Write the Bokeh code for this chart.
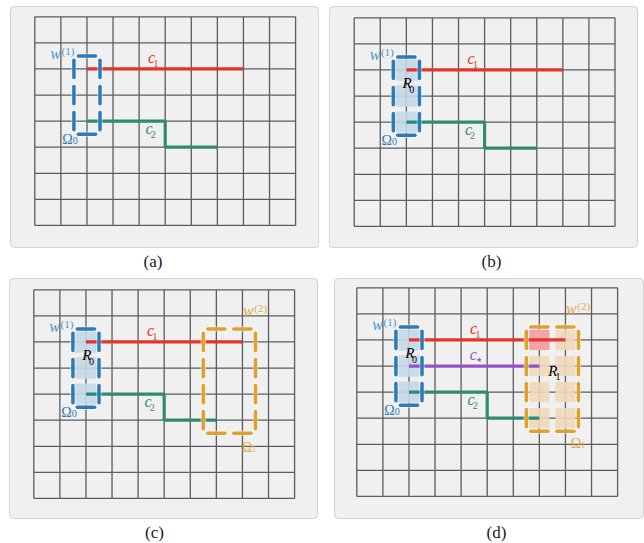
from bokeh.plotting import figure
from bokeh.models import Range1d, ColumnDataSource
from bokeh.core.properties import value
from bokeh.embed import file_html
from bokeh.resources import INLINE

# ---------------- data (grid units: column, row; rows counted downward) ----------------
N_COLS = 10
N_ROWS = 8
C1_X = [2, 8]
C1_Y = [2, 2]
C2_X = [2, 5, 5, 7]
C2_Y = [4, 4, 5, 5]
CSTAR_X = [2, 7]
CSTAR_Y = [3, 3]
W1_COLS = [2]
W1_ROWS = [2, 3, 4]
W2_COLS = [7, 8]
W2_ROWS = [2, 3, 4, 5]
R1_COLS = [7]
R1_ROWS = [2]
PANEL_LABELS = ["(a)", "(b)", "(c)", "(d)"]

# ---------------- layout ----------------
PX = 26.08          # pixels per grid unit
W, H = 644, 543

def u(px):
    return (px - 34.3) / PX

def v(py):
    return (py - 16.3) / PX

# grid origins of each panel (units)
ORIGINS = [(0.0, 0.0), (u(353.7), v(17.3)), (u(33.3), v(289.3)), (u(356.3), v(287.3))]
BOXES = [(u(10), u(318), v(6), v(247)), (u(329), u(637), v(6), v(247)),
         (u(9), u(317), v(278), v(518)), (u(334), u(643), v(278), v(518))]
LABEL_POS = [(u(152.5), v(261)), (u(491), v(261)), (u(154), v(532)), (u(496), v(532))]
OMEGA1_POS = {2: (8.17, 6.05), 3: (8.40, 5.97)}

SERIF = value("'Liberation Serif', serif")
BLUE = "#2b7bba"
BLUE_TXT = "#4b93d1"
ORANGE = "#e0a02e"
ORANGE_TXT = "#e3a843"
RED = "#e2332d"
GREEN = "#2e8a72"
PURPLE = "#9552c6"

p = figure(width=W, height=H, output_backend="svg", toolbar_location=None,
           x_range=Range1d(u(0), u(0) + W / PX), y_range=Range1d(v(0) + H / PX, v(0)),
           min_border=0, outline_line_color=None, background_fill_color="white",
           border_fill_color="white")
p.axis.visible = False
p.xgrid.visible = False
p.ygrid.visible = False


def txt(x, y, s, color, size, style="normal"):
    p.text(x=[x], y=[y], text=[s], text_font=SERIF, text_font_size=size,
           text_font_style=style, text_color=color, text_align="center",
           text_baseline="middle")


def window_segments(cols, rows, ox, oy, inset=0.17):
    l, r = min(cols) - 0.5, max(cols) + 0.5
    t, b = min(rows) - 0.5, max(rows) + 0.5
    x0, y0, x1, y1 = [], [], [], []
    for c in cols:
        for yy in (t, b):
            x0.append(ox + c - 0.5 + inset); x1.append(ox + c + 0.5 - inset)
            y0.append(oy + yy); y1.append(oy + yy)
    for rr in rows:
        for xx in (l, r):
            x0.append(ox + xx); x1.append(ox + xx)
            y0.append(oy + rr - 0.5 + inset); y1.append(oy + rr + 0.5 - inset)
    return dict(x0=x0, y0=y0, x1=x1, y1=y1)


def draw_window(cols, rows, ox, oy, color):
    src = ColumnDataSource(window_segments(cols, rows, ox, oy))
    p.segment("x0", "y0", "x1", "y1", source=src, line_color="white",
              line_alpha=0.45, line_width=5.5, line_cap="round")
    p.segment("x0", "y0", "x1", "y1", source=src, line_color=color,
              line_width=3.5, line_cap="round")


def shade(cols, rows, ox, oy, color, size, alpha):
    xs, ys = [], []
    for c in cols:
        for rr in rows:
            xs.append(ox + c); ys.append(oy + rr)
    p.rect(x=xs, y=ys, width=size, height=size, fill_color=color,
           fill_alpha=alpha, line_color=None)


for k in range(4):
    ox, oy = ORIGINS[k]
    bl, br, bt, bb = BOXES[k]
    # panel box
    p.quad(left=[bl], right=[br], top=[bt], bottom=[bb], fill_color="#f0f0f0",
           line_color="#d2d2d2", line_width=1, border_radius=4)
    # grid
    gx0 = [ox + c for c in range(N_COLS + 1)] + [ox] * (N_ROWS + 1)
    gx1 = [ox + c for c in range(N_COLS + 1)] + [ox + N_COLS] * (N_ROWS + 1)
    gy0 = [oy] * (N_COLS + 1) + [oy + r for r in range(N_ROWS + 1)]
    gy1 = [oy + N_ROWS] * (N_COLS + 1) + [oy + r for r in range(N_ROWS + 1)]
    p.segment(x0=gx0, y0=gy0, x1=gx1, y1=gy1, line_color="#5c5c5c", line_width=1.3)

    # shading
    if k >= 1:
        shade(W1_COLS, W1_ROWS, ox, oy, "#c4d8e8", 0.82, 0.9)
    if k == 3:
        shade(W2_COLS, W2_ROWS, ox, oy, "#f0d7ba", 0.77, 0.9)
        shade(R1_COLS, R1_ROWS, ox, oy, "#f4a0a8", 0.77, 0.95)

    # curves
    p.line([ox + x for x in C1_X], [oy + y for y in C1_Y], line_color=RED, line_width=3.2)
    p.line([ox + x for x in C2_X], [oy + y for y in C2_Y], line_color=GREEN, line_width=3.2)
    if k == 3:
        p.line([ox + x for x in CSTAR_X], [oy + y for y in CSTAR_Y], line_color=PURPLE,
               line_width=3.2)

    # windows
    draw_window(W1_COLS, W1_ROWS, ox, oy, BLUE)
    if k >= 2:
        draw_window(W2_COLS, W2_ROWS, ox, oy, ORANGE)

    # labels
    txt(ox + 0.80, oy + 1.42, "w", BLUE_TXT, "16px", "italic")
    txt(ox + 1.27, oy + 1.31, "(1)", BLUE_TXT, "11px")
    txt(ox + 1.25, oy + 4.70, "Ω", BLUE, "14px")
    txt(ox + 1.55, oy + 4.76, "0", BLUE, "10px")
    txt(ox + 4.48, oy + 1.57, "c", RED, "16px", "italic")
    txt(ox + 4.65, oy + 1.78, "1", RED, "10px")
    txt(ox + 4.38, oy + 4.27, "c", GREEN, "16px", "italic")
    txt(ox + 4.54, oy + 4.50, "2", GREEN, "10px")
    if k >= 1:
        txt(ox + 2.03, oy + 2.51, "R", "black", "15px", "italic")
        txt(ox + 2.21, oy + 2.74, "0", "black", "10px")
    if k >= 2:
        txt(ox + 8.23, oy + 0.78, "w", ORANGE_TXT, "16px", "italic")
        txt(ox + 8.70, oy + 0.71, "(2)", ORANGE_TXT, "11px")
        qx, qy = OMEGA1_POS[k]
        txt(ox + qx, oy + qy, "Ω", ORANGE_TXT, "14px")
        txt(ox + qx + 0.27, oy + qy + 0.06, "1", ORANGE_TXT, "9px")
    if k == 3:
        txt(ox + 4.47, oy + 2.56, "c", PURPLE, "16px", "italic")
        txt(ox + 4.70, oy + 2.75, "★", PURPLE, "7px")
        txt(ox + 7.52, oy + 3.19, "R", "black", "15px", "italic")
        txt(ox + 7.71, oy + 3.41, "1", "black", "10px")

    lx, ly = LABEL_POS[k]
    txt(lx, ly, PANEL_LABELS[k], "#1a1a1a", "17px")

open("out.html", "w").write(file_html(p, INLINE))
